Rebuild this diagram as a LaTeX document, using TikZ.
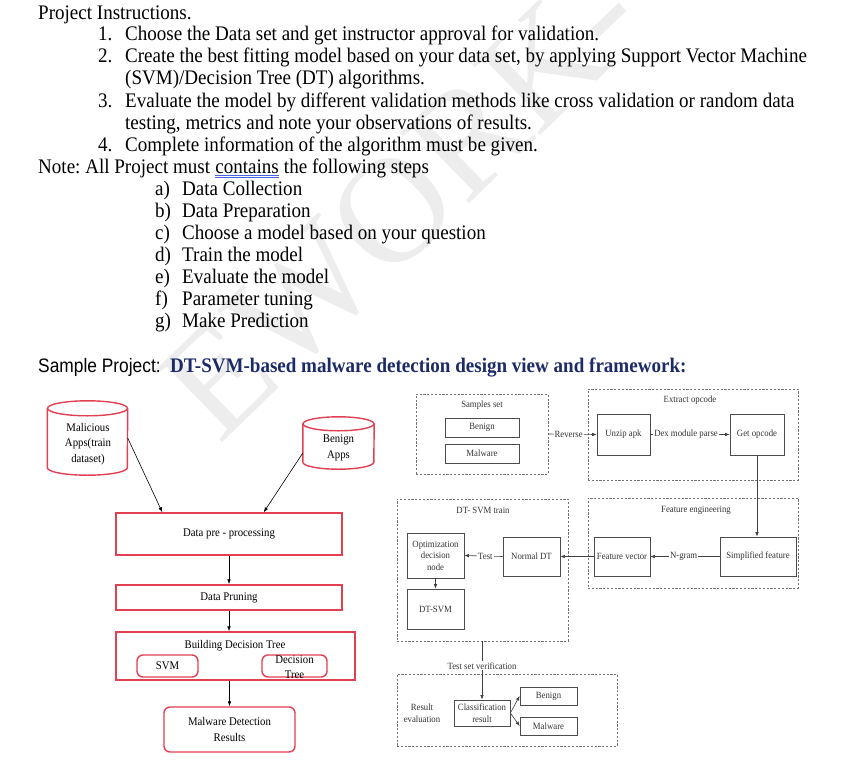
\documentclass[tikz,border=0pt]{standalone}
\usepackage{fontspec}
\usetikzlibrary{shapes.geometric,arrows.meta,calc}
\setmainfont{Liberation Serif}
\newfontfamily\docfont{Liberation Serif}[FakeStretch=0.92]
\newfontfamily\samplefont{Liberation Sans}[FakeStretch=0.89]
\newfontfamily\wmfont{Liberation Serif}
\definecolor{redc}{RGB}{224,64,82}
\definecolor{navy}{RGB}{28,42,104}
\definecolor{ulblue}{RGB}{70,100,220}
\tikzset{
  txt/.style={anchor=base west, inner sep=0, font=\docfont\fontsize{20.7}{24}\selectfont},
  redbox/.style={draw=redc, line width=1.4pt, inner sep=0, align=center},
  redround/.style={redbox, rounded corners=6pt},
  cylline/.style={draw=redc, line width=1.4pt},
  cylnode/.style={inner sep=0},
  ltext/.style={inner sep=0, align=center, font=\docfont\fontsize{11.7}{15.5}\selectfont},
  larr/.style={-{Latex[length=5pt,width=3.6pt]}, line width=0.6pt},
  gbox/.style={draw=black!70, line width=0.7pt, inner sep=0, align=center, text=black!80, font=\docfont\fontsize{9.5}{11.5}\selectfont},
  dbox/.style={draw=black!55, dash pattern=on 2.2pt off 1.6pt, line width=0.7pt, inner sep=0},
  glab/.style={inner sep=1pt, align=center, text=black!80, font=\docfont\fontsize{9.5}{11.5}\selectfont},
  garr/.style={-{Latex[length=4.5pt,width=3.5pt]}, draw=black!75, line width=0.6pt}
}
\frenchspacing
\begin{document}
\begin{tikzpicture}[x=1pt,y=-1pt]
\useasboundingbox (0,0) rectangle (842,773);
\clip (0,0) rectangle (842,773);
% watermark
\node[rotate=44, text=black!7, font=\wmfont\fontsize{150}{150}\selectfont, inner sep=0] (wm) at (402,202) {EWORK-};

% instructions text
\node[txt] (pi) at (38,20) {Project Instructions.};
\node[txt] (n1) at (98,41) {1.};
\node[txt] (l1) at (125,41) {Choose the Data set and get instructor approval for validation.};
\node[txt] (n2) at (98,63) {2.};
\node[txt] (l2) at (125,63) {Create the best fitting model based on your data set, by applying Support Vector Machine};
\node[txt] (l2b) at (125,85) {(SVM)/Decision Tree (DT) algorithms.};
\node[txt] (n3) at (98,107) {3.};
\node[txt] (l3) at (125,107) {Evaluate the model by different validation methods like cross validation or random data};
\node[txt] (l3b) at (125,129) {testing, metrics and note your observations of results.};
\node[txt] (n4) at (98,151) {4.};
\node[txt] (l4) at (125,151) {Complete information of the algorithm must be given.};
\node[txt] (note1) at (38,173) {Note: All Project must};
\node[txt] (note2) at ([xshift=4.8pt]note1.base east) {contains};
\node[txt] (note3) at ([xshift=4.8pt]note2.base east) {the following steps};
\draw[ulblue, line width=0.6pt] ([yshift=-2.6pt]note2.base west) -- ([yshift=-2.6pt]note2.base east);
\draw[ulblue, line width=0.6pt] ([yshift=-4.4pt]note2.base west) -- ([yshift=-4.4pt]note2.base east);
\node[txt] (sa) at (155,195) {a)};   \node[txt] (ta) at (182,195) {Data Collection};
\node[txt] (sb) at (155,217.1) {b)}; \node[txt] (tb) at (182,217.1) {Data Preparation};
\node[txt] (sc) at (155,239.2) {c)}; \node[txt] (tc) at (182,239.2) {Choose a model based on your question};
\node[txt] (sd) at (155,261.3) {d)}; \node[txt] (td) at (182,261.3) {Train the model};
\node[txt] (se) at (155,283.4) {e)}; \node[txt] (te) at (182,283.4) {Evaluate the model};
\node[txt] (sf) at (155,305.5) {f)}; \node[txt] (tf) at (182,305.5) {Parameter tuning};
\node[txt] (sg) at (155,327.6) {g)}; \node[txt] (tg) at (182,327.6) {Make Prediction};
\node[anchor=base west, inner sep=0, font=\samplefont\fontsize{19.5}{22}\selectfont] (sp) at (38,372) {Sample Project:};
\node[anchor=base west, inner sep=0, text=navy, font=\docfont\bfseries\fontsize{20.7}{24}\selectfont] (spt) at (170,372) {DT-SVM-based malware detection design view and framework:};

% ---------- left flowchart ----------
\node[cylnode, minimum width=80pt, minimum height=74pt] (mal) at (87.5,438) {};
\draw[cylline] ([yshift=-7.5pt]mal.north) ellipse [x radius=40, y radius=7.5];
\draw[cylline] ([yshift=-7.5pt]mal.north west) -- ([yshift=7.5pt]mal.south west)
   arc[start angle=180, end angle=0, x radius=40, y radius=7.5] -- ([yshift=-7.5pt]mal.north east);
\node[ltext] (malt) at (88,444) {Malicious\\Apps(train\\dataset)};
\node[cylnode, minimum width=71pt, minimum height=52pt] (ben) at (338.5,443) {};
\draw[cylline] ([yshift=-7pt]ben.north) ellipse [x radius=35.5, y radius=7];
\draw[cylline] ([yshift=-7pt]ben.north west) -- ([yshift=7pt]ben.south west)
   arc[start angle=180, end angle=0, x radius=35.5, y radius=7] -- ([yshift=-7pt]ben.north east);
\node[ltext] (bent) at (338.5,448) {Benign\\Apps};
\node[redbox, minimum width=226pt, minimum height=42pt, font=\docfont\fontsize{11.7}{15.5}\selectfont] (dpp) at (229,534) {Data pre - processing};
\node[redbox, minimum width=226pt, minimum height=25pt, font=\docfont\fontsize{11.7}{15.5}\selectfont] (dpr) at (229,597.5) {Data Pruning};
\node[redbox, minimum width=239pt, minimum height=48pt] (bdt) at (235.5,656) {};
\node[ltext] (bdtt) at (235,646) {Building Decision Tree};
\node[redround, minimum width=61pt, minimum height=22pt, font=\docfont\fontsize{11.7}{15.5}\selectfont] (svm) at (167.5,666) {SVM};
\node[redround, minimum width=65pt, minimum height=22pt] (dtr) at (294.5,666) {};
\node[ltext] (dtrt) at (294.5,667) {Decision\\Tree};
\node[redround, minimum width=131pt, minimum height=45pt, font=\docfont\fontsize{11.7}{15.5}\selectfont] (mdr) at (229.5,729.5) {Malware Detection\\Results};
\draw[larr] (mal.east) -- ([xshift=47pt]dpp.north west);
\draw[larr] ([yshift=-10pt]ben.west) -- ([xshift=-79pt]dpp.north east);
\draw[larr] (dpp.south) -- (dpr.north);
\draw[larr] (dpr.south) -- (dpr.south |- bdt.north);
\draw[larr] (mdr.north |- bdt.south) -- (mdr.north);

% ---------- right framework ----------
\node[dbox, minimum width=132pt, minimum height=80pt] (samp) at (482,434) {};
\node[glab] (sampt) at (482,405) {Samples set};
\node[gbox, minimum width=74pt, minimum height=19pt] (sben) at (482,427.5) {Benign};
\node[gbox, minimum width=74pt, minimum height=19pt] (smal) at (482,453.5) {Malware};

\node[dbox, minimum width=210pt, minimum height=91pt] (extr) at (693,434.5) {};
\node[glab] (extrt) at (690,400) {Extract opcode};
\node[gbox, minimum width=53pt, minimum height=41pt] (unzip) at (623.5,434.5) {Unzip apk};
\node[gbox, minimum width=54pt, minimum height=41pt] (getop) at (757,434.5) {Get opcode};
\draw[garr] (samp.east) -- node[glab, fill=white, pos=0.42] (rev) {Reverse} (unzip.west);
\draw[garr] (unzip.east) -- node[glab, fill=white, pos=0.45] (dex) {Dex module parse} (getop.west);

\node[dbox, minimum width=210pt, minimum height=90pt] (feng) at (693,543) {};
\node[glab] (fengt) at (696,510) {Feature engineering};
\node[gbox, minimum width=76pt, minimum height=39pt] (simp) at (758,556.5) {Simplified feature};
\node[gbox, minimum width=56pt, minimum height=39pt] (fvec) at (622,556.5) {Feature vector};
\draw[garr] (getop.south) -- (getop.south |- simp.north);
\draw[garr] (simp.west) -- node[glab, fill=white, pos=0.52] (ngram) {N-gram} (fvec.east);

\node[dbox, minimum width=171pt, minimum height=142pt] (dtt) at (482.5,570) {};
\node[glab] (dttt) at (483,510) {DT- SVM train};
\node[gbox, minimum width=57pt, minimum height=39pt] (ndt) at (531.5,556.5) {Normal DT};
\node[gbox, minimum width=57pt, minimum height=45pt] (opt) at (435.5,555.5) {Optimization\\decision\\node};
\node[gbox, minimum width=57pt, minimum height=40pt] (dsvm) at (435.5,609) {DT-SVM};
\draw[garr] (fvec.west) -- (ndt.east);
\draw[garr] (ndt.west) -- node[glab, fill=white, pos=0.45] (test) {Test} (opt.east);
\draw[garr] (opt.south) -- (dsvm.north);

\node[dbox, minimum width=220pt, minimum height=72pt] (rev2) at (507,710) {};
\node[glab] (revt) at (422,713) {Result\\evaluation};
\node[gbox, minimum width=56pt, minimum height=26pt] (cls) at (482,713) {Classification\\result};
\node[gbox, minimum width=57pt, minimum height=18pt] (rben) at (548.5,696) {Benign};
\node[gbox, minimum width=57pt, minimum height=18pt] (rmal) at (548.5,726) {Malware};
\draw[garr] (cls.north |- dtt.south) -- node[glab, fill=white, pos=0.42] (tsv) {Test set verification} (cls.north);
\draw[garr] (cls.east) -- (rben.west);
\draw[garr] (cls.east) -- (rmal.west);
\end{tikzpicture}
\end{document}
